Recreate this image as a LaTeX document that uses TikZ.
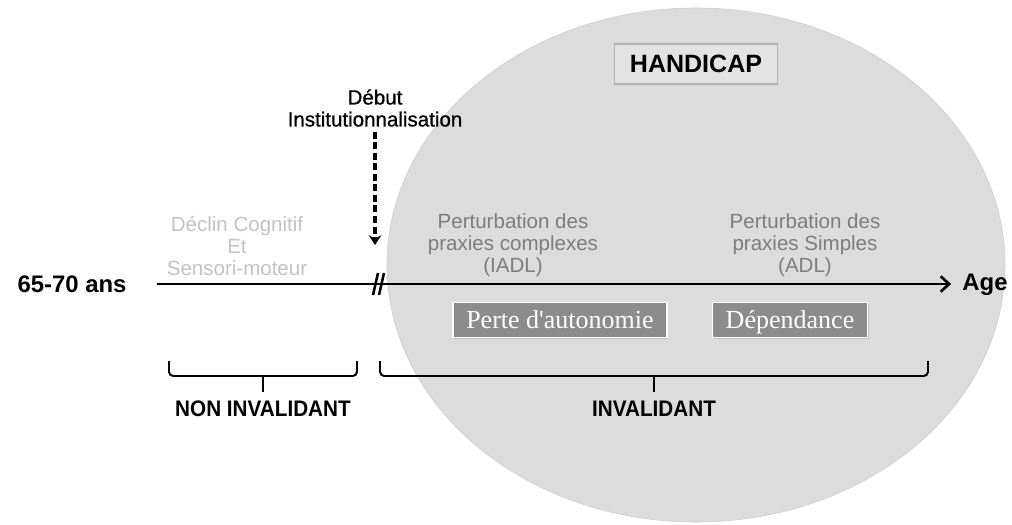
\documentclass[tikz,border=0pt]{standalone}
\usepackage{fontspec}
\setmainfont{Liberation Sans}
\newfontfamily\boxfont{Liberation Serif}
\newfontfamily\narrowfont[FakeStretch=0.92]{Liberation Sans}
\newfontfamily\mediumfont[FakeBold=0.8]{Liberation Sans}
\usepackage{xcolor}
\usetikzlibrary{calc,arrows.meta,shadows}
\definecolor{zonegray}{RGB}{220,220,220}
\definecolor{zoneedge}{RGB}{205,205,205}
\definecolor{boxgray}{RGB}{140,140,140}
\definecolor{midgray}{RGB}{125,125,125}
\definecolor{palegray}{RGB}{195,195,195}
\tikzset{
  graytext/.style={align=center, font=\fontsize{14.6}{15.6}\selectfont},
  stagebox/.style={fill=boxgray, draw=white, line width=1.2pt, text=white, inner sep=0pt,
    font=\boxfont\fontsize{18.5}{20}\selectfont, minimum height=0.875cm,
    text height=14.2pt, text depth=2pt,
    drop shadow={opacity=0.3, shadow xshift=0.8pt, shadow yshift=-0.8pt}},
  bracket/.style={line width=1.4pt, rounded corners=3pt},
  phaselabel/.style={font=\narrowfont\bfseries\fontsize{16}{18}\selectfont},
  bigbold/.style={font=\bfseries\fontsize{17}{20}\selectfont, text height=12.2pt, text depth=0pt},
  breakmark/.style={line width=1.8pt},
}
\begin{document}
\begin{tikzpicture}[x=0.025cm, y=-0.025cm]
  \useasboundingbox (0,0) rectangle (1012,525);
  \fill[zonegray, draw=zoneedge, line width=0.4pt] (696,265) ellipse [x radius=309, y radius=257];
  \node[draw=black!30, fill=black!11, line width=0.8pt, minimum width=4.075cm, minimum height=1cm,
    font=\bfseries\fontsize{17.8}{20}\selectfont] (handicap) at (696,64) {HANDICAP};

  \node[bigbold] (start) at (72,284) {65-70 ans};
  \node[bigbold] (age) at (985,282) {Age};
  \draw[line width=1.9pt, -{Straight Barb[length=6pt, width=11pt]}, shorten <=18pt, shorten >=4.5pt] (start) -- (start -| age.west);
  \foreach \xb in {373,379}
    \draw[breakmark] (\xb,295) -- ++(5,-22);

  \node[align=center, font=\mediumfont\fontsize{14.6}{15.6}\selectfont] (debut) at (375,108) {Début\\Institutionnalisation};
  \coordinate (arrowend) at (375,245);
  \draw[line width=2.3pt, dash pattern=on 5pt off 2.5pt, -{Stealth[length=7pt, width=9pt, inset=2.5pt]}] (debut) -- (arrowend);

  \node[graytext, text=palegray] (declin) at (237,246) {Déclin Cognitif\\Et\\Sensori-moteur};
  \node[graytext, text=midgray] (complexes) at (513,245) {Perturbation des\\praxies complexes\\(IADL)};
  \node[graytext, text=midgray] (simples) at (805,245) {Perturbation des\\praxies Simples\\(ADL)};

  \node[stagebox, minimum width=5.35cm] (autonomie) at (560,320) {Perte d'autonomie};
  \node[stagebox, minimum width=3.875cm] (dependance) at (790,320) {Dépendance};

  \coordinate (nonA) at (169,361);
  \coordinate (nonB) at (357,361);
  \coordinate (invA) at (380,361);
  \coordinate (invB) at (928,361);
  \draw[bracket] (nonA) -- ++(0,15) -| (nonB);
  \draw[bracket] (invA) -- ++(0,15) -| (invB);
  \draw[line width=1.4pt] ($(nonA)!0.5!(nonB)+(0,14)$) -- ++(0,17);
  \draw[line width=1.4pt] ($(invA)!0.5!(invB)+(0,14)$) -- ++(0,17);
  \node[phaselabel] (noninv) at ($(nonA)!0.5!(nonB)+(0,48)$) {NON INVALIDANT};
  \node[phaselabel] (inv) at ($(invA)!0.5!(invB)+(0,48)$) {INVALIDANT};
\end{tikzpicture}
\end{document}
